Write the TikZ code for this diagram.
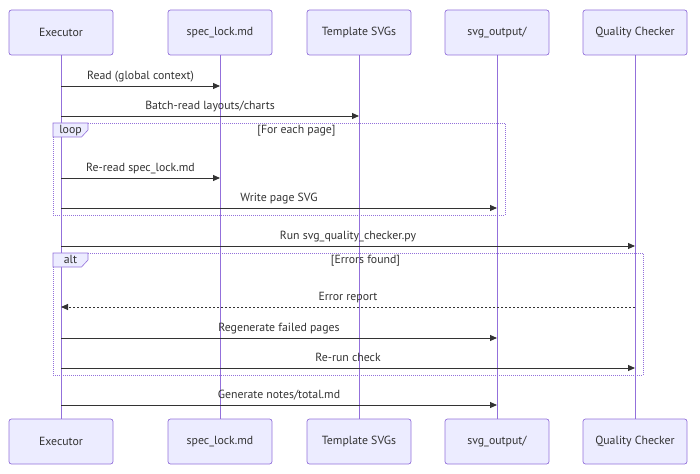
\documentclass[tikz,border=0pt]{standalone}
\usepackage{fontspec}
\setmainfont{PT Sans}
\usetikzlibrary{arrows.meta}
\definecolor{actfill}{HTML}{ECECFF}
\definecolor{actline}{HTML}{9370DB}
\definecolor{txt}{HTML}{333333}
\begin{document}
\begin{tikzpicture}[x=1pt,y=-1pt,font=\fontsize{11.8}{14}\selectfont,
  actor/.style={draw=actline,fill=actfill,rounded corners=2.5pt,minimum width=104pt,minimum height=45pt,text=txt,line width=0.7pt,inner sep=0pt},
  life/.style={draw=actline,line width=1pt},
  msg/.style={draw=txt,line width=0.9pt,-{Triangle[length=7pt,width=6pt]}},
  reply/.style={msg,dash pattern=on 2pt off 2pt},
  mlabel/.style={text=txt,inner sep=0pt,anchor=base},
  frame/.style={draw=actline,line width=0.9pt,dash pattern=on 1pt off 1pt},
  tab/.style={draw=actline,fill=actfill,line width=0.6pt}]
\useasboundingbox (0,0) rectangle (700,473);
% actors
\node[actor] (ex) at (61,32.5) {Executor};
\node[actor] (sl) at (220,32.5) {spec\_lock.md};
\node[actor] (ts) at (359,32.5) {Template SVGs};
\node[actor] (so) at (497,32.5) {svg\_output/};
\node[actor] (qc) at (635,32.5) {Quality Checker};
\node[actor] (exb) at (61,441.5) {Executor};
\node[actor] (slb) at (220,441.5) {spec\_lock.md};
\node[actor] (tsb) at (359,441.5) {Template SVGs};
\node[actor] (sob) at (497,441.5) {svg\_output/};
\node[actor] (qcb) at (635,441.5) {Quality Checker};
% lifelines
\draw[life] (ex) -- (exb);
\draw[life] (sl) -- (slb);
\draw[life] (ts) -- (tsb);
\draw[life] (so) -- (sob);
\draw[life] (qc) -- (qcb);
% frames
\draw[frame] (53,123) rectangle (505,215);
\draw[tab] (53,123) -- (88,123) -- (88,130) -- (81.5,137) -- (53,137) -- cycle;
\node[mlabel] (looplbl) at (70.5,133.5) {loop};
\node[mlabel] (loopcond) at (296.5,133.5) {[For each page]};
\draw[frame] (53,253) rectangle (643,375);
\draw[tab] (53,253) -- (88,253) -- (88,260) -- (81.5,267) -- (53,267) -- cycle;
\node[mlabel] (altlbl) at (70.5,263.5) {alt};
\node[mlabel] (altcond) at (365.5,263.5) {[Errors found]};
% message end points
\coordinate (m1a) at (61,86);  \coordinate (m1b) at (220,86);
\coordinate (m2a) at (61,116); \coordinate (m2b) at (359,116);
\coordinate (m3a) at (61,178); \coordinate (m3b) at (220,178);
\coordinate (m4a) at (61,208); \coordinate (m4b) at (497,208);
\coordinate (m5a) at (61,246); \coordinate (m5b) at (635,246);
\coordinate (m6a) at (635,307); \coordinate (m6b) at (61,307);
\coordinate (m7a) at (61,338); \coordinate (m7b) at (497,338);
\coordinate (m8a) at (61,368); \coordinate (m8b) at (635,368);
\coordinate (m9a) at (61,405); \coordinate (m9b) at (497,405);
% messages
\draw[msg] (m1a) -- node[mlabel,yshift=6.5pt] {Read (global context)} (m1b);
\draw[msg] (m2a) -- node[mlabel,yshift=6.5pt] {Batch-read layouts/charts} (m2b);
\draw[msg] (m3a) -- node[mlabel,yshift=6.5pt] {Re-read spec\_lock.md} (m3b);
\draw[msg] (m4a) -- node[mlabel,yshift=6.5pt] {Write page SVG} (m4b);
\draw[msg] (m5a) -- node[mlabel,yshift=6.5pt] {Run svg\_quality\_checker.py} (m5b);
\draw[reply] (m6a) -- node[mlabel,yshift=6.5pt] {Error report} (m6b);
\draw[msg] (m7a) -- node[mlabel,yshift=6.5pt] {Regenerate failed pages} (m7b);
\draw[msg] (m8a) -- node[mlabel,yshift=6.5pt] {Re-run check} (m8b);
\draw[msg] (m9a) -- node[mlabel,yshift=6.5pt] {Generate notes/total.md} (m9b);
\end{tikzpicture}
\end{document}
